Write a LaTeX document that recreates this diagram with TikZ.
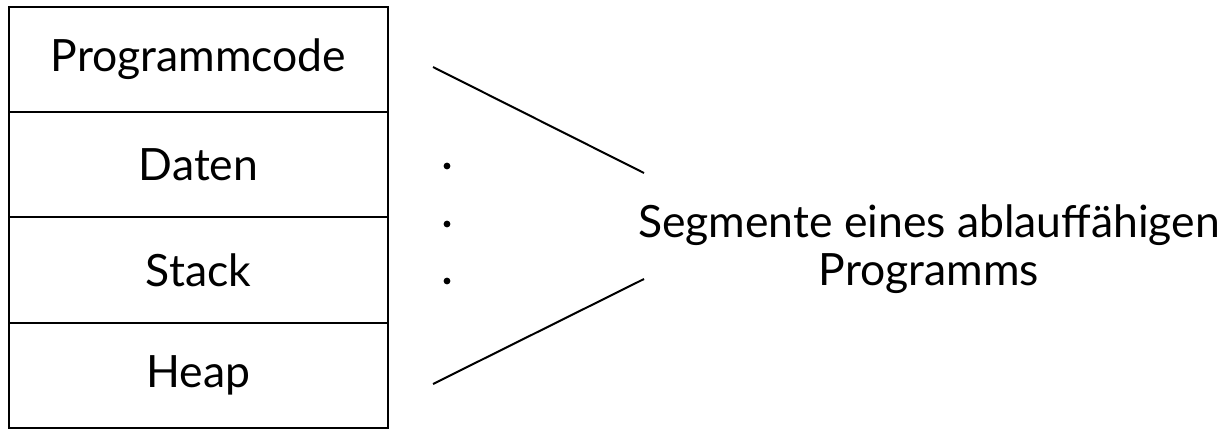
\documentclass[tikz,border=0pt]{standalone}
\usepackage{fontspec}
\setmainfont{Lato}
\usepackage{tikz}
\usetikzlibrary{positioning}

\begin{document}
\begin{tikzpicture}[x=1pt, y=-1pt, line width=2pt,
    segbox/.style={draw, rectangle, minimum width=379pt, minimum height=105.25pt,
                   inner sep=0pt, outer sep=0pt, font=\fontsize{44.5}{50}\selectfont}]
    % Rahmen des Bildes
    \useasboundingbox (0,0) rectangle (1229,429);

    % Segmente untereinander
    \node[segbox] (code) at (198.5,59.6) {Programmcode};
    \node[segbox, below=0pt of code] (data) {Daten};
    \node[segbox, below=0pt of data] (stack) {Stack};
    \node[segbox, below=0pt of stack] (heap) {Heap};

    % Beschriftung rechts
    \node[align=center, font=\fontsize{44.5}{48}\selectfont] (label) at (929,249)
        {Segmente eines ablauffähigen\\Programms};

    % Klammerlinien
    \coordinate (topstart) at (433,67);
    \coordinate (topend) at (644,173);
    \coordinate (botstart) at (433,384);
    \coordinate (botend) at (644,279);
    \draw (topstart) -- (topend);
    \draw (botstart) -- (botend);

    % Punkte
    \foreach \y in {166,224,281}
        \fill (447,\y) circle (3.4pt);
\end{tikzpicture}
\end{document}
